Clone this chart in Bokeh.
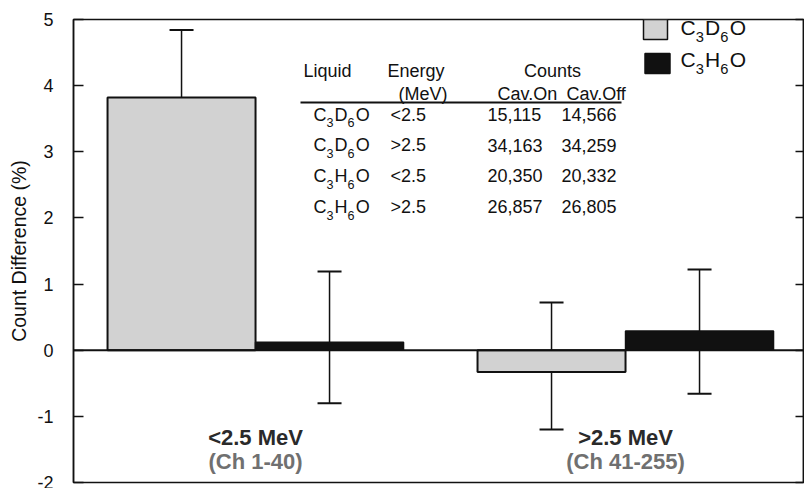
import numpy as np
from bokeh.plotting import figure
from bokeh.models import Range1d, LinearAxis, FixedTicker, Whisker, ColumnDataSource, Span, TeeHead
from bokeh.embed import file_html
from bokeh.resources import INLINE
from bokeh.core.properties import value

# ---------------- data ----------------
energy_bins = ["<2.5 MeV", ">2.5 MeV"]
channel_ranges = ["(Ch 1-40)", "(Ch 41-255)"]
legend_formulas = ["C_3D_6O", "C_3H_6O"]

c3d6o_diff = [3.82, -0.33]
c3d6o_err_hi = [4.84, 0.72]
c3d6o_err_lo = [2.81, -1.20]

c3h6o_diff = [0.12, 0.29]
c3h6o_err_hi = [1.19, 1.22]
c3h6o_err_lo = [-0.80, -0.66]

y_ticks = [-2, -1, 0, 1, 2, 3, 4, 5]
y_tick_labels = ["-2", "-1", "0", "1", "2", "3", "4", "5"]

table_liquid = ["C_3D_6O", "C_3D_6O", "C_3H_6O", "C_3H_6O"]
table_energy = ["<2.5", ">2.5", "<2.5", ">2.5"]
table_cav_on = [15115, 34163, 20350, 26857]
table_cav_off = [14566, 34259, 20332, 26805]

# ---------------- layout ----------------
X0, X1 = 0.508, 2.481
Y0, Y1 = -2, 5
FONT = value("Liberation Sans")
INK = "#111111"
FL, FR, FT, FB = 73, 803, 19, 482   # frame edges in page pixels


def dx(px):
    return X0 + (px - FL) / (FR - FL) * (X1 - X0)


def dy(py):
    return Y1 - (py - FT) / (FB - FT) * (Y1 - Y0)


p = figure(width=804, height=488, x_range=Range1d(X0, X1), y_range=Range1d(Y0, Y1),
           output_backend="svg", toolbar_location=None, x_axis_location=None,
           min_border_left=FL, min_border_right=804 - FR, min_border_top=FT,
           min_border_bottom=488 - FB)
p.title.visible = False
p.background_fill_color = "white"
p.border_fill_color = "white"
p.outline_line_color = INK
p.outline_line_width = 1.5
p.outline_line_alpha = 1.0
p.xgrid.visible = False
p.ygrid.visible = False

yax = p.yaxis[0]
yax.ticker = FixedTicker(ticks=y_ticks)
yax.major_label_overrides = {t: s for t, s in zip(y_ticks, y_tick_labels)}
yax.major_tick_in = 10
yax.major_tick_out = 0
yax.minor_tick_line_color = None
yax.major_tick_line_width = 1.5
yax.major_tick_line_color = INK
yax.axis_line_color = INK
yax.axis_line_width = 1.5
yax.major_label_text_font = "Liberation Sans"
yax.major_label_text_font_size = "18px"
yax.major_label_text_color = INK
yax.major_label_standoff = 20
yax.axis_label = "Count Difference (%)"
yax.axis_label_text_font = "Liberation Sans"
yax.axis_label_text_font_size = "19.5px"
yax.axis_label_text_font_style = "normal"
yax.axis_label_text_color = INK
yax.axis_label_standoff = 4

rax = LinearAxis(ticker=FixedTicker(ticks=y_ticks), major_tick_in=8, major_tick_out=0,
                 minor_tick_line_color=None,
                 major_label_overrides={t: "" for t in y_ticks},
                 major_label_standoff=0, axis_line_color=INK, axis_line_width=1.5,
                 major_tick_line_width=1.5, major_tick_line_color=INK)
p.add_layout(rax, "right")

# ---------------- bars ----------------
cat_x = np.arange(1, len(energy_bins) + 1, dtype=float)
light_x = cat_x - 0.2
dark_x = cat_x + 0.2

p.vbar(x=light_x, top=c3d6o_diff, bottom=0, width=0.4,
       fill_color="#d2d2d2", line_color=INK, line_width=2)
p.vbar(x=dark_x, top=c3h6o_diff, bottom=0, width=0.4,
       fill_color=INK, line_color=INK, line_width=1.5)

p.add_layout(Span(location=0, dimension="width", line_color=INK, line_width=2))

err_src = ColumnDataSource(dict(
    base=list(light_x) + list(dark_x),
    upper=c3d6o_err_hi + c3h6o_err_hi,
    lower=c3d6o_err_lo + c3h6o_err_lo,
))
p.add_layout(Whisker(source=err_src, base="base", upper="upper", lower="lower",
                     line_color=INK, line_width=1.5,
                     upper_head=TeeHead(size=24, line_width=2, line_color=INK),
                     lower_head=TeeHead(size=24, line_width=2, line_color=INK)))

# ---------------- category labels ----------------
p.text(x=cat_x, y=[dy(437)] * len(cat_x), text=energy_bins, text_font=FONT,
       text_font_size="22px", text_font_style="bold", text_color="#2a2a2a",
       text_align="center", text_baseline="middle")
p.text(x=cat_x, y=[dy(461)] * len(cat_x), text=channel_ranges, text_font=FONT,
       text_font_size="22px", text_font_style="bold", text_color="#707070",
       text_align="center", text_baseline="middle")

# ---------------- formula helper ----------------
MAIN_W = {"C": 0.722, "D": 0.722, "H": 0.722, "O": 0.778}


def draw_formula(f, px, py, size):
    mx, my, mt, sx, sy, st = [], [], [], [], [], []
    off = 0.0
    i = 0
    while i < len(f):
        if f[i] == "_":
            sx.append(dx(px + off)); sy.append(dy(py + 0.47 * size)); st.append(f[i + 1])
            off += 0.45 * size
            i += 2
        else:
            mx.append(dx(px + off)); my.append(dy(py)); mt.append(f[i])
            off += MAIN_W.get(f[i], 0.7) * size
            i += 1
    p.text(x=mx, y=my, text=mt, text_font=FONT, text_font_size=f"{size}px",
           text_color=INK, text_align="left", text_baseline="middle")
    p.text(x=sx, y=sy, text=st, text_font=FONT, text_font_size=f"{round(size * 0.7, 1)}px",
           text_color=INK, text_align="left", text_baseline="middle")


# ---------------- legend ----------------
p.rect(x=[dx(655)], y=[dy(29)], width=24, height=20, width_units="screen", height_units="screen",
       fill_color="#d2d2d2", line_color=INK, line_width=1.5)
p.rect(x=[dx(657)], y=[dy(63)], width=25, height=20, width_units="screen", height_units="screen",
       fill_color=INK, line_color=INK, line_width=1.5)
for f, py in zip(legend_formulas, [27, 59]):
    draw_formula(f, 680, py, 21)

# ---------------- table ----------------
TS = "18px"
p.text(x=[dx(303), dx(387)], y=[dy(70)] * 2, text=["Liquid", "Energy"], text_font=FONT,
       text_font_size=TS, text_color=INK, text_align="left", text_baseline="middle")
p.text(x=[dx(552)], y=[dy(70)], text=["Counts"], text_font=FONT,
       text_font_size=TS, text_color=INK, text_align="center", text_baseline="middle")
p.text(x=[dx(398), dx(497), dx(566)], y=[dy(93)] * 3, text=["(MeV)", "Cav.On", "Cav.Off"],
       text_font=FONT, text_font_size=TS, text_color=INK, text_align="left", text_baseline="middle")
p.line(x=[dx(300), dx(621)], y=[dy(102), dy(102)], line_color=INK, line_width=1.8)

row_py = [114 + 30.7 * i for i in range(len(table_liquid))]
for f, py in zip(table_liquid, row_py):
    draw_formula(f, 313, py, 18)
p.text(x=[dx(390)] * len(row_py), y=[dy(v) for v in row_py], text=table_energy, text_font=FONT,
       text_font_size=TS, text_color=INK, text_align="left", text_baseline="middle")
p.text(x=[dx(487)] * len(row_py), y=[dy(v) for v in row_py], text=[f"{n:,}" for n in table_cav_on],
       text_font=FONT, text_font_size=TS, text_color=INK, text_align="left", text_baseline="middle")
p.text(x=[dx(561)] * len(row_py), y=[dy(v) for v in row_py], text=[f"{n:,}" for n in table_cav_off],
       text_font=FONT, text_font_size=TS, text_color=INK, text_align="left", text_baseline="middle")

open("out.html", "w").write(file_html(p, INLINE))
